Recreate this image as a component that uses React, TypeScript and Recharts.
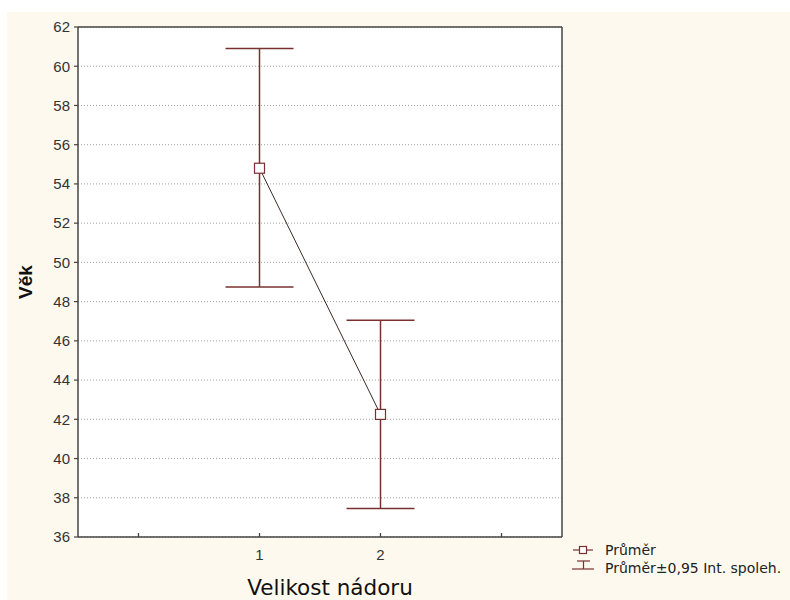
import React from 'react';
import { ComposedChart, Line, XAxis, YAxis, CartesianGrid, ErrorBar, Legend } from 'recharts';

const categories = [1, 2];
const means = [54.8, 42.25];
const lowerCI = [48.75, 37.45];
const upperCI = [60.9, 47.05];
const yTicks = [36, 38, 40, 42, 44, 46, 48, 50, 52, 54, 56, 58, 60, 62];
const xTicks = [0, 1, 2, 3];
const xTickLabels: Record<number, string> = { 1: '1', 2: '2' };
const yTitle = 'Věk';
const xTitle = 'Velikost nádoru';
const legendMean = 'Průměr';
const legendCI = 'Průměr±0,95 Int. spoleh.';

const data = categories.map((c, i) => ({
  x: c,
  mean: means[i],
  err: [means[i] - lowerCI[i], upperCI[i] - means[i]],
}));

const ERR = '#7a3030';
const AXIS = '#444';
const CREAM = '#fdf9ee';
const TICKFONT = '"Liberation Sans", Arial, sans-serif';
const WIDEFONT = '"DejaVu Sans", sans-serif';

const SquareDot = (props: any) => {
  const { cx, cy, index } = props;
  if (cx == null || cy == null) return null;
  return (
    <rect key={`dot-${index}`} x={cx - 5} y={cy - 5} width={10} height={10} fill="#fff" stroke={ERR} strokeWidth={1.2} />
  );
};

const BottomTick = (props: any) => {
  const { x, y, payload } = props;
  const label = xTickLabels[payload.value];
  return (
    <g>
      <line x1={x} x2={x} y1={y} y2={y - 4} stroke={AXIS} strokeWidth={1.3} />
      {label ? (
        <text x={x} y={y + 23} textAnchor="middle" fontSize={15} fill="#333" fontFamily={TICKFONT}>
          {label}
        </text>
      ) : null}
    </g>
  );
};

const LegendContent = () => (
  <svg width={230} height={42} style={{ display: 'block', overflow: 'visible' }}>
    <line x1={13} x2={33} y1={10} y2={10} stroke={ERR} strokeWidth={1.2} />
    <rect x={19.5} y={6.5} width={7} height={7} fill="#fff" stroke={ERR} strokeWidth={1.2} />
    <text x={45} y={10} dominantBaseline="central" fontSize={14} fill="#222" fontFamily={WIDEFONT}>
      {legendMean}
    </text>
    <line x1={17} x2={30} y1={21} y2={21} stroke={ERR} strokeWidth={1.2} />
    <line x1={23.5} x2={23.5} y1={21} y2={29} stroke={ERR} strokeWidth={1.2} />
    <line x1={12} x2={34} y1={29} y2={29} stroke={ERR} strokeWidth={1.2} />
    <text x={45} y={28} dominantBaseline="central" fontSize={14} fill="#222" fontFamily={WIDEFONT}>
      {legendCI}
    </text>
  </svg>
);

export default function App() {
  return (
    <div style={{ position: 'absolute', left: 0, top: 0, width: 790, height: 600, background: '#fff' }}>
      <div style={{ position: 'absolute', left: 7, top: 12, width: 783, height: 588, background: CREAM }}>
        <ComposedChart
          width={783}
          height={588}
          data={data}
          margin={{ top: 15, right: 228, left: 21, bottom: 33 }}
        >
          <CartesianGrid horizontal vertical={false} fill="#fff" stroke="#a0a0a0" strokeDasharray="1 2" yAxisId="left" />
          <XAxis
            xAxisId="bottom"
            dataKey="x"
            type="number"
            domain={[-0.5, 3.5]}
            ticks={xTicks}
            allowDataOverflow
            height={30}
            tickSize={0}
            tickMargin={0}
            tickLine={false}
            axisLine={{ stroke: AXIS, strokeWidth: 1.5 }}
            tick={<BottomTick />}
            label={{
              content: () => (
                <text x={323} y={583} textAnchor="middle" fontSize={21.5} fill="#111" fontFamily={WIDEFONT}>
                  {xTitle}
                </text>
              ),
            }}
          />
          <XAxis
            xAxisId="top"
            orientation="top"
            type="number"
            domain={[-0.5, 3.5]}
            ticks={xTicks}
            allowDataOverflow
            mirror
            tick={false}
            tickSize={4}
            height={1}
            axisLine={{ stroke: AXIS, strokeWidth: 1.5 }}
            tickLine={{ stroke: AXIS, strokeWidth: 1.2 }}
          />
          <YAxis
            yAxisId="left"
            type="number"
            domain={[36, 62]}
            ticks={yTicks}
            allowDataOverflow
            width={50}
            tickSize={4}
            tickMargin={4}
            axisLine={{ stroke: AXIS, strokeWidth: 1.5 }}
            tickLine={{ stroke: AXIS, strokeWidth: 1.2 }}
            tick={{ fontSize: 15, fill: '#333', fontFamily: TICKFONT }}
            label={{
              content: () => (
                <text
                  x={18}
                  y={270}
                  transform="rotate(-90 18 270)"
                  textAnchor="middle"
                  dominantBaseline="central"
                  fontSize={19}
                  fontWeight="bold"
                  fill="#111"
                  fontFamily={TICKFONT}
                >
                  {yTitle}
                </text>
              ),
            }}
          />
          <YAxis
            yAxisId="right"
            orientation="right"
            type="number"
            domain={[36, 62]}
            ticks={yTicks}
            allowDataOverflow
            mirror
            tick={false}
            tickSize={4}
            width={1}
            axisLine={{ stroke: AXIS, strokeWidth: 1.5 }}
            tickLine={{ stroke: AXIS, strokeWidth: 1.2 }}
          />
          <Legend
            layout="vertical"
            align="center"
            verticalAlign="middle"
            content={<LegendContent />}
            wrapperStyle={{ position: 'absolute', left: 553, top: 528, width: 230, height: 42 }}
          />
          <Line
            xAxisId="bottom"
            yAxisId="left"
            dataKey="mean"
            stroke="#3a2a2a"
            strokeWidth={1}
            dot={<SquareDot />}
            activeDot={false}
            isAnimationActive={false}
            legendType="none"
          >
            <ErrorBar dataKey="err" width={34} stroke={ERR} strokeWidth={1.5} direction="y" isAnimationActive={false} />
          </Line>
        </ComposedChart>
      </div>
    </div>
  );
}
